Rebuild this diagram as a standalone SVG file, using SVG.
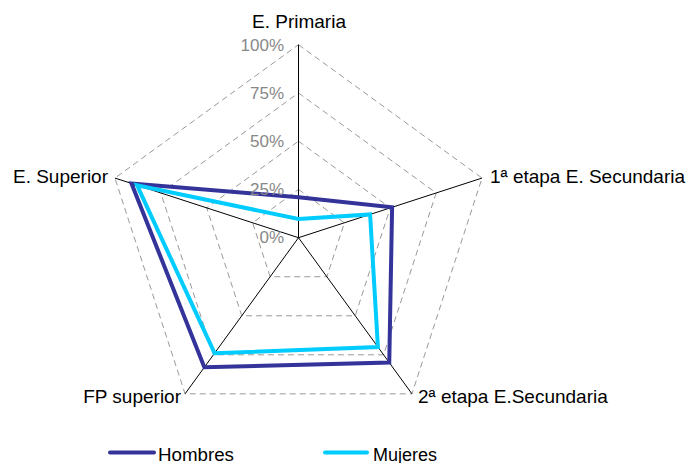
<svg xmlns="http://www.w3.org/2000/svg" width="688" height="463" viewBox="0 0 688 463">
<style>
.grid{fill:none;stroke:#999;stroke-width:1;stroke-dasharray:6,4}
.axis{stroke:#000;stroke-width:1;fill:none}
.series{fill:none;stroke-width:4;stroke-linejoin:miter}
.pct{font-family:"Liberation Sans",Arial,sans-serif;font-size:17px;fill:#888;text-anchor:end}
.lbl{font-family:"Liberation Sans",Arial,sans-serif;font-size:19px;fill:#000}
.leg{font-family:"Liberation Sans",Arial,sans-serif;font-size:18px;fill:#000}
</style>
<rect width="688" height="463" fill="#fff"/>
<g id="chart" transform="translate(298.5,237.7)">
<g id="grid">
<polygon class="grid" points="0,-193 183.56,-59.64 113.45,156.14 -113.45,156.14 -183.56,-59.64"/>
<polygon class="grid" points="0,-144.75 137.67,-44.73 85.08,117.1 -85.08,117.1 -137.67,-44.73"/>
<polygon class="grid" points="0,-96.5 91.78,-29.82 56.72,78.07 -56.72,78.07 -91.78,-29.82"/>
<polygon class="grid" points="0,-48.25 45.89,-14.91 28.36,39.03 -28.36,39.03 -45.89,-14.91"/>
</g>
<g id="connectors">
<line class="axis" x1="0" y1="0" x2="0" y2="-193"/>
<line class="axis" x1="0" y1="0" x2="183.56" y2="-59.64"/>
<line class="axis" x1="0" y1="0" x2="113.45" y2="156.14"/>
<line class="axis" x1="0" y1="0" x2="-113.45" y2="156.14"/>
<line class="axis" x1="0" y1="0" x2="-183.56" y2="-59.64"/>
</g>
<g id="hombres">
<polygon class="series" stroke="#333399" points="0,-40.5 93.6,-30.4 90.76,124.9 -94.16,129.6 -167,-54.3"/>
</g>
<g id="mujeres">
<polygon class="series" stroke="#00CCFF" points="0,-18.7 71.6,-23.3 79.4,109.3 -83.9,115.5 -161.5,-52.5"/>
</g>
</g>
<g id="scale">
<text class="pct" x="284" y="51">100%</text>
<text class="pct" x="284" y="99">75%</text>
<text class="pct" x="284" y="147">50%</text>
<text class="pct" x="284" y="195">25%</text>
<text class="pct" x="284" y="243">0%</text>
</g>
<g id="labels">
<text class="lbl" x="299" y="28" text-anchor="middle">E. Primaria</text>
<text class="lbl" x="490" y="183">1ª etapa E. Secundaria</text>
<text class="lbl" x="418" y="403">2ª etapa E.Secundaria</text>
<text class="lbl" x="181" y="403" text-anchor="end">FP superior</text>
<text class="lbl" x="108" y="183" text-anchor="end">E. Superior</text>
</g>
<g id="legend">
<line x1="110" y1="452.5" x2="154" y2="452.5" stroke="#333399" stroke-width="4" stroke-linecap="round"/>
<text class="leg" x="158" y="461" textLength="76" lengthAdjust="spacingAndGlyphs">Hombres</text>
<line x1="325" y1="452.5" x2="367" y2="452.5" stroke="#00CCFF" stroke-width="4" stroke-linecap="round"/>
<text class="leg" x="373" y="461" textLength="64" lengthAdjust="spacingAndGlyphs">Mujeres</text>
</g>
</svg>
